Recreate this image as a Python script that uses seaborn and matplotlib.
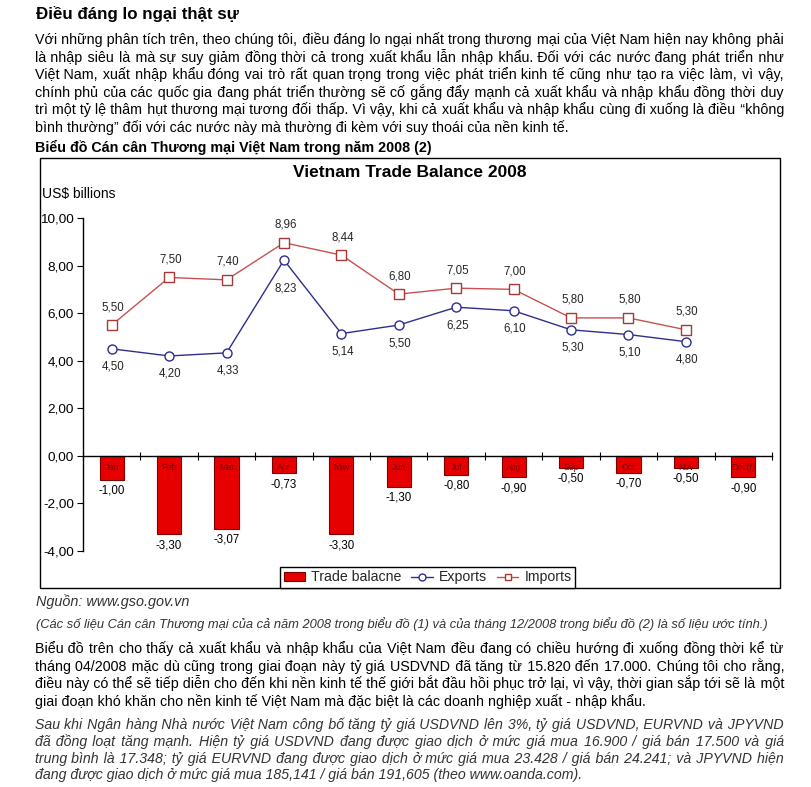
import numpy as np
import pandas as pd
import matplotlib
matplotlib.use("Agg")
import matplotlib.pyplot as plt
import seaborn as sns
from matplotlib.patches import Rectangle, Patch
from matplotlib.lines import Line2D
from matplotlib.font_manager import FontProperties
from matplotlib.ticker import FuncFormatter

# ---------------- data ----------------
months = ["Jan", "Feb", "Mar", "Apr", "May", "Jun", "Jul", "Aug", "Sep", "Oct", "Nov", "Dec(f)"]
trade_balance = [-1.00, -3.30, -3.07, -0.73, -3.30, -1.30, -0.80, -0.90, -0.50, -0.70, -0.50, -0.90]
exports = [4.50, 4.20, 4.33, 8.23, 5.14, 5.50, 6.25, 6.10, 5.30, 5.10, 4.80]
imports = [5.50, 7.50, 7.40, 8.96, 8.44, 6.80, 7.05, 7.00, 5.80, 5.80, 5.30]
y_ticks = [10, 8, 6, 4, 2, 0, -2, -4]

chart_title = "Vietnam Trade Balance 2008"
y_unit = "US$ billions"
legend_labels = ["Trade balacne", "Exports", "Imports"]

heading = "Điều đáng lo ngại thật sự"
para1 = [
    "Với những phân tích trên, theo chúng tôi, điều đáng lo ngại nhất trong thương mại của Việt Nam hiện nay không phải",
    "là nhập siêu là mà sự suy giảm đồng thời cả trong xuất khẩu lẫn nhập khẩu. Đối với các nước đang phát triển như",
    "Việt Nam, xuất nhập khẩu đóng vai trò rất quan trọng trong việc phát triển kinh tế cũng như tạo ra việc làm, vì vậy,",
    "chính phủ của các quốc gia đang phát triển thường sẽ cố gắng đẩy mạnh cả xuất khẩu và nhập khẩu đồng thời duy",
    "trì một tỷ lệ thâm hụt thương mại tương đối thấp. Vì vậy, khi cả xuất khẩu và nhập khẩu cùng đi xuống là điều “không",
    "bình thường” đối với các nước này mà thường đi kèm với suy thoái của nền kinh tế.",
]
caption = "Biểu đồ Cán cân Thương mại Việt Nam trong năm 2008 (2)"
source = "Nguồn: www.gso.gov.vn"
note = ("(Các số liệu Cán cân Thương mại của cả năm 2008 trong biểu đồ (1) và của tháng 12/2008 "
        "trong biểu đồ (2) là số liệu ước tính.)")
para2 = [
    "Biểu đồ trên cho thấy cả xuất khẩu và nhập khẩu của Việt Nam đều đang có chiều hướng đi xuống đồng thời kể từ",
    "tháng 04/2008 mặc dù cũng trong giai đoạn này tỷ giá USDVND đã tăng từ 15.820 đến 17.000. Chúng tôi cho rằng,",
    "điều này có thể sẽ tiếp diễn cho đến khi nền kinh tế thế giới bắt đầu hồi phục trở lại, vì vậy, thời gian sắp tới sẽ là một",
    "giai đoạn khó khăn cho nền kinh tế Việt Nam mà đặc biệt là các doanh nghiệp xuất - nhập khẩu.",
]
para3 = [
    "Sau khi Ngân hàng Nhà nước Việt Nam công bố tăng tỷ giá USDVND lên 3%, tỷ giá USDVND, EURVND và JPYVND",
    "đã đồng loạt tăng mạnh. Hiện tỷ giá USDVND đang được giao dịch ở mức giá mua 16.900 / giá bán 17.500 và giá",
    "trung bình là 17.348; tỷ giá EURVND đang được giao dịch ở mức giá mua 23.428 / giá bán 24.241; và JPYVND hiện",
    "đang được giao dịch ở mức giá mua 185,141 / giá bán 191,605 (theo www.oanda.com).",
]

# ---------------- style ----------------
sns.set_theme(style="white")
FAM = ["Liberation Sans", "DejaVu Sans"]
plt.rcParams["font.family"] = FAM
W, H = 811, 787
BAR_C = "#e60000"
BAR_EC = "#7a0000"
EXP_C = "#2e2e8f"
IMP_C = "#c85050"
IMP_EC = "#a83838"

fig = plt.figure(figsize=(W / 100, H / 100), dpi=100, facecolor="white")


def fx(x):
    return x / W


def fy(y):
    return 1 - y / H


def fp(size, weight="normal", style="normal"):
    return FontProperties(family=FAM, size=size, weight=weight, style=style)


def put(x, y, s, prop, color="black", ha="left"):
    fig.text(fx(x), fy(y), s, fontproperties=prop, color=color, ha=ha, va="baseline")


renderer = fig.canvas.get_renderer()


def tw(s, prop):
    return renderer.get_text_width_height_descent(s, prop, ismath=False)[0]


def justified(line, width, prop):
    """Widen the gaps of one line with hair spaces so it fills the given width."""
    words = line.split(" ")
    n = len(words) - 1
    if n < 1:
        return line
    filler, unit = None, 0.0
    for cand in ["\u200a", "\u2009", "\u2006"]:
        u = (tw("a" + cand * 20 + "a", prop) - tw("aa", prop)) / 20
        if u > 0.3:
            filler, unit = cand, u
            break
    if filler is None:
        return line
    extra = width - tw(line, prop)
    total = max(0, int(round(extra / unit)))
    counts = [(total * (i + 1)) // n - (total * i) // n for i in range(n)]
    out = words[0]
    for c, w_ in zip(counts, words[1:]):
        out += " " + filler * c + w_
    return out


def block(lines, x0, x1, y0, dy, prop, color="black"):
    for k, line in enumerate(lines):
        s = line if k == len(lines) - 1 else justified(line, x1 - x0, prop)
        put(x0, y0 + k * dy, s, prop, color)


# ---------------- page text ----------------
BODY = 10.3
put(36, 19, heading, fp(12.2, "bold"))
block(para1, 35, 784, 44, 17.6, fp(BODY))
put(35, 152, caption, fp(10.3, "bold"))
put(36, 606, source, fp(10.4, style="italic"), color="#333333")
put(36, 628, note, fp(9.27, style="italic"), color="#333333")
block(para2, 35, 784, 653, 17.6, fp(BODY))
block(para3, 35, 784, 729, 16.8, fp(10.15, style="italic"), color="#333333")

# ---------------- chart ----------------
fig.add_artist(Rectangle((fx(40), fy(588)), 740 / W, 430 / H, transform=fig.transFigure,
                         fill=False, edgecolor="black", linewidth=1.0))
put(410, 177, chart_title, fp(12.5, "bold"), ha="center")
put(42, 198, y_unit, fp(10))

ax = fig.add_axes([fx(83), fy(551), 689 / W, 333 / H])
ax.set_facecolor("none")
df = pd.DataFrame({"month": months, "balance": trade_balance})
sns.barplot(data=df, x="month", y="balance", ax=ax, color=BAR_C, saturation=1,
            edgecolor=BAR_EC, linewidth=0.8, width=0.42)
sns.lineplot(x=np.arange(len(exports)), y=exports, ax=ax, color=EXP_C, linewidth=1.0,
             marker="o", markersize=6.5, markerfacecolor="white", markeredgecolor=EXP_C,
             markeredgewidth=1.0)
sns.lineplot(x=np.arange(len(imports)), y=imports, ax=ax, color=IMP_C, linewidth=1.0,
             marker="s", markersize=6.5, markerfacecolor="white", markeredgecolor=IMP_EC,
             markeredgewidth=1.0)

ax.set_xlim(-0.5, len(months) - 0.5)
ax.set_ylim(-4, 10)
ax.set_yticks(y_ticks)
ax.yaxis.set_major_formatter(FuncFormatter(lambda v, p: f"{v:.2f}".replace(".", ",")))
ax.set_xticks(np.arange(-0.5, len(months), 1.0))
ax.set_xticklabels([])
ax.set_xlabel("")
ax.set_ylabel("")
for s in ["top", "right"]:
    ax.spines[s].set_visible(False)
ax.spines["bottom"].set_position(("data", 0))
ax.spines["bottom"].set_color("black")
ax.spines["bottom"].set_linewidth(1.0)
ax.spines["left"].set_color("black")
ax.spines["left"].set_linewidth(1.0)
ax.tick_params(axis="x", direction="inout", length=6, width=0.8, color="black", bottom=True)
ax.tick_params(axis="y", direction="out", length=4, width=0.8, color="black", left=True,
               pad=2.5, labelsize=9.7, labelcolor="black")
for lab in ax.get_yticklabels():
    lab.set_fontfamily(FAM)

pt = 0.72  # points per pixel at 100 dpi
lab_fp = fp(8.3)
for i, (m, v) in enumerate(zip(months, trade_balance)):
    ax.annotate(m, (i, 0), xytext=(0, -12 * pt), textcoords="offset points", ha="center",
                va="center", fontproperties=fp(6.3), color="#7a0000")
    ax.annotate(f"{v:.2f}".replace(".", ","), (i, v), xytext=(0, -11 * pt),
                textcoords="offset points", ha="center", va="center", fontproperties=lab_fp,
                color="black")
for i, v in enumerate(imports):
    ax.annotate(f"{v:.2f}".replace(".", ","), (i, v), xytext=(1, 18 * pt),
                textcoords="offset points", ha="center", va="center", fontproperties=lab_fp)
special_offset = {3: 28}
for i, v in enumerate(exports):
    off = special_offset.get(i, 18)
    ax.annotate(f"{v:.2f}".replace(".", ","), (i, v), xytext=(1, -off * pt),
                textcoords="offset points", ha="center", va="center", fontproperties=lab_fp)

handles = [
    Patch(facecolor=BAR_C, edgecolor=BAR_EC, linewidth=0.8),
    Line2D([0], [0], color=EXP_C, lw=1.0, marker="o", markersize=5, markerfacecolor="white",
           markeredgecolor=EXP_C),
    Line2D([0], [0], color=IMP_C, lw=1.0, marker="s", markersize=5, markerfacecolor="white",
           markeredgecolor=IMP_EC),
]
leg = fig.legend(handles, legend_labels, loc="lower left", bbox_to_anchor=(fx(280), fy(588)),
                 bbox_transform=fig.transFigure, ncol=3, frameon=True, fancybox=False,
                 edgecolor="black", framealpha=1, borderpad=0.25, borderaxespad=0,
                 handlelength=1.5, handleheight=0.6, handletextpad=0.45, columnspacing=0.7,
                 prop=fp(10.2))
leg.get_frame().set_linewidth(1.0)

fig.savefig("out.png", dpi=100, facecolor="white")
